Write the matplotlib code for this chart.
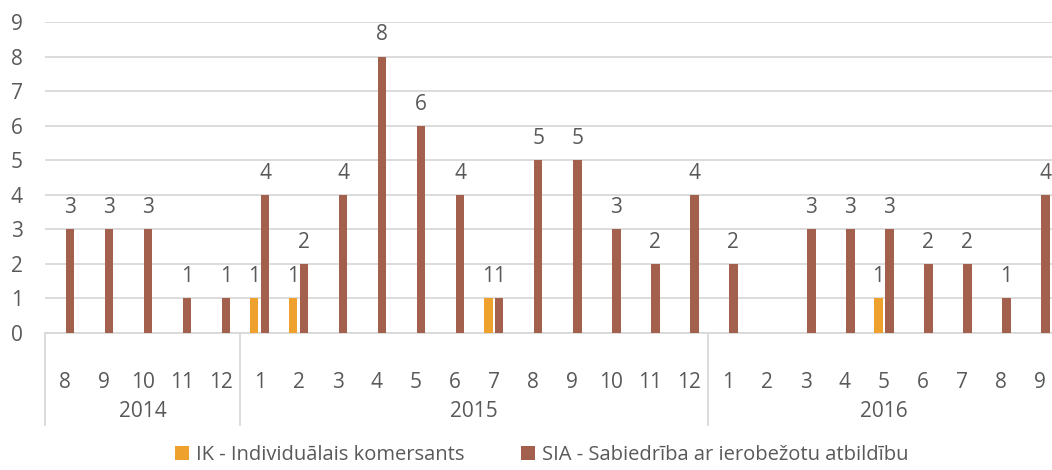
import numpy as np
import matplotlib.pyplot as plt
import matplotlib.transforms as mtransforms

years = ["2014", "2015", "2016"]
months = [8, 9, 10, 11, 12,
          1, 2, 3, 4, 5, 6, 7, 8, 9, 10, 11, 12,
          1, 2, 3, 4, 5, 6, 7, 8, 9]
year_counts = [5, 12, 9]

ik = [None, None, None, None, None,
      1, 1, None, None, None, None, 1, None, None, None, None, None,
      None, None, None, None, 1, None, None, None, None]
sia = [3, 3, 3, 1, 1,
       4, 2, 4, 8, 6, 4, 1, 5, 5, 3, 2, 4,
       2, None, 3, 3, 3, 2, 2, 1, 4]

ik_label = "IK - Individuālais komersants"
sia_label = "SIA - Sabiedrība ar ierobežotu atbildību"
ik_color = "#EFA12E"
sia_color = "#A3604C"
text_color = "#595959"
grid_color = "#D9D9D9"
fs = 15

plt.rcParams['font.family'] = ['Open Sans', 'DejaVu Sans']

fig = plt.figure(figsize=(10.52, 4.70), dpi=100)
ax = fig.add_axes([45 / 1052, 137 / 470, 1014.5 / 1052, 311 / 470])

x = np.arange(len(months))
w = 0.22
off = 0.14

ik_x = [xi - off for xi, v in zip(x, ik) if v is not None]
ik_v = [v for v in ik if v is not None]
sia_x = [xi + off for xi, v in zip(x, sia) if v is not None]
sia_v = [v for v in sia if v is not None]

b1 = ax.bar(ik_x, ik_v, width=w, color=ik_color, label=ik_label, zorder=3)
b2 = ax.bar(sia_x, sia_v, width=w, color=sia_color, label=sia_label, zorder=3)
for bars in (b1, b2):
    ax.bar_label(bars, padding=8, fontsize=fs, color=text_color)

ax.set_xlim(-0.5, len(months) - 0.5)
ax.set_ylim(0, 9)
ax.set_yticks(range(10))
ax.yaxis.grid(True, color=grid_color, linewidth=1.3, zorder=0)
ax.set_axisbelow(True)
for s in ["top", "right", "left"]:
    ax.spines[s].set_visible(False)
ax.spines["bottom"].set_color(grid_color)
ax.spines["bottom"].set_linewidth(1.3)

ax.set_xticks(x)
ax.set_xticklabels([str(m) for m in months])
ax.tick_params(axis="x", length=0, pad=28, labelsize=fs, labelcolor=text_color)
ax.tick_params(axis="y", length=0, pad=16, labelsize=fs, labelcolor=text_color)

trans = mtransforms.blended_transform_factory(ax.transData, ax.transAxes)
start = 0
bounds = [-0.5]
for yr, n in zip(years, year_counts):
    center = start + (n - 1) / 2
    ax.text(center, -0.252, yr, transform=trans, ha="center", va="center",
            fontsize=fs, color=text_color)
    start += n
    bounds.append(start - 0.5)
for bx in bounds:
    ax.plot([bx, bx], [0, -0.296], transform=trans, color=grid_color,
            linewidth=1.3, clip_on=False)

fig.legend(loc="center", bbox_to_anchor=(0.515, 0.032), ncol=2, frameon=False,
           fontsize=14.5, labelcolor=text_color, handlelength=0.7, handleheight=0.7,
           handletextpad=0.35, columnspacing=2.8)

fig.savefig("out.png", dpi=100)
